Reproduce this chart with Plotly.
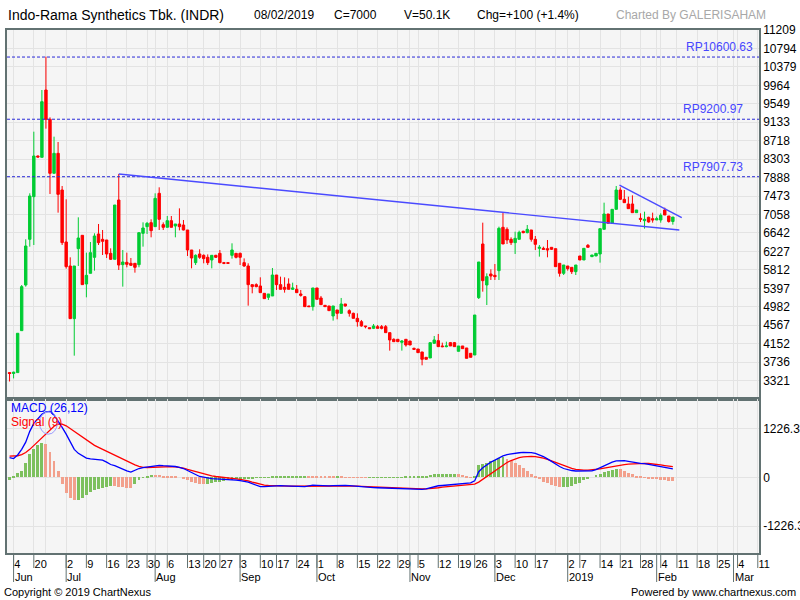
import plotly.graph_objects as go
import pandas as pd

# ---------------- data ----------------
HOLIDAYS = ['2018-06-01', '2018-06-11', '2018-06-12', '2018-06-13', '2018-06-14', '2018-06-15',
            '2018-06-18', '2018-06-19', '2018-08-17', '2018-08-22', '2018-09-11', '2018-11-20',
            '2018-12-24', '2018-12-25', '2018-12-31', '2019-01-01', '2019-02-05']
FIRST_DAY = '2018-05-31'
LAST_AXIS_DAY = '2019-03-11'
SKIP_WEEK_LABELS = ['2018-06-25', '2018-12-26']

OPEN = [3500, 3480, 3500, 4444, 5471, 6499, 7459, 8374, 8344, 9859,
        9199, 7984, 8434, 7609, 6439, 5899, 4714, 6289, 6589, 5494,
        5734, 6094, 6619, 6499, 6484, 6184, 6049, 7384, 5929, 5981,
        5959, 5959, 5929, 6634, 6784, 6874, 6784, 7534, 6829, 6769,
        6919, 6799, 6844, 6821, 6709, 6259, 5974, 6169, 6139, 6094,
        6034, 6139, 6184, 5974, 5974, 6139, 6184, 6184, 5974, 5899,
        5479, 5479, 5449, 5284, 5194, 5224, 5696, 5479, 5419, 5494,
        5374, 5374, 5269, 5209, 4999, 4984, 5404, 5179, 5014, 4999,
        4774, 4909, 4834, 5044, 4894, 4834, 4721, 4646, 4549, 4511,
        4496, 4534, 4534, 4534, 4399, 4249, 4249, 4181, 4249, 4211,
        4046, 4031, 3964, 3844, 3829, 4159, 4219, 4099, 4084, 4174,
        4174, 3979, 4099, 4054, 3934, 3896, 5186, 6394, 5471, 5719,
        5689, 5794, 6769, 6724, 6499, 6424, 6499, 6679, 6649, 6709,
        6499, 6296, 6296, 6289, 6319, 6289, 5959, 5734, 5899, 5869,
        5771, 6124, 6034, 6364, 6109, 6124, 6169, 6724, 7069, 6859,
        7174, 7609, 7399, 7294, 7294, 7099, 6971, 6919, 6994, 6964,
        6934, 6934, 7159, 7024, 6900]
HIGH = [3500, 3520, 4385, 5471, 6499, 7534, 8921, 8385, 9859, 10609,
        9244, 8809, 8689, 7699, 7399, 6094, 5899, 6994, 6589, 6199,
        6439, 6634, 6844, 6709, 6484, 6296, 7271, 7969, 6259, 6199,
        6079, 5960, 6649, 6881, 6890, 6949, 7534, 7669, 6880, 7024,
        7024, 6844, 7196, 6934, 6709, 6259, 6160, 6274, 6160, 6160,
        6139, 6150, 6259, 5990, 5980, 6409, 6184, 6200, 6070, 5959,
        5479, 5509, 5644, 5284, 5269, 5854, 5696, 5659, 5644, 5621,
        5524, 5471, 5359, 5209, 5000, 5404, 5404, 5224, 5020, 4999,
        4999, 4909, 5179, 5044, 4924, 4849, 4834, 4684, 4550, 4511,
        4594, 4571, 4571, 4571, 4399, 4271, 4249, 4230, 4249, 4211,
        4061, 4031, 3964, 3844, 4174, 4324, 4369, 4174, 4196, 4189,
        4189, 4099, 4099, 4054, 3934, 4796, 5989, 6874, 5734, 5824,
        5944, 6784, 7099, 6769, 6544, 6671, 6694, 6694, 6821, 6709,
        6574, 6371, 6334, 6484, 6319, 6289, 5959, 5921, 5899, 5869,
        5921, 6124, 6296, 6394, 6146, 6184, 6739, 7324, 7069, 7174,
        7699, 7669, 7609, 7459, 7489, 7159, 7084, 7121, 7009, 7099,
        7009, 7084, 7211, 7024, 7000]
LOW = [3300, 3370, 3500, 4444, 5434, 6334, 6371, 8340, 8344, 8989,
       7519, 7984, 7099, 6371, 5839, 4714, 3881, 5899, 5479, 5194,
       5734, 5794, 6371, 6146, 6079, 6034, 6049, 5809, 5434, 5869,
       5900, 5749, 5870, 6334, 6620, 6544, 6784, 6709, 6709, 6769,
       6769, 6544, 6700, 6700, 6124, 5846, 5921, 6060, 5959, 5921,
       5846, 6080, 5959, 5940, 5950, 6064, 6070, 5921, 5880, 5006,
       5284, 5420, 5299, 5164, 5134, 5224, 5359, 5374, 5299, 5374,
       5359, 5299, 5209, 4984, 4980, 4894, 5149, 5029, 4980, 4894,
       4669, 4699, 4834, 4984, 4759, 4721, 4534, 4534, 4496, 4480,
       4480, 4496, 4474, 4399, 3994, 4196, 4196, 3994, 4084, 4121,
       4009, 3949, 3664, 3799, 3829, 4144, 4084, 4069, 4069, 4099,
       4084, 3979, 4039, 3821, 3844, 3896, 5156, 5321, 5021, 5584,
       5584, 5584, 6394, 6394, 6371, 6169, 6499, 6634, 6634, 6446,
       6259, 6109, 6260, 6094, 6259, 5884, 5659, 5696, 5794, 5719,
       5696, 6034, 6034, 6319, 6100, 6124, 5974, 6724, 6859, 6859,
       7174, 7384, 7324, 7189, 7099, 7099, 6889, 6739, 6874, 6874,
       6934, 6874, 7046, 6874, 6829]
CLOSE = [3480, 3510, 4385, 5434, 6349, 7474, 8374, 8350, 9596, 9199,
         7984, 8434, 7511, 6424, 5884, 4714, 5899, 6529, 5479, 5689,
         6199, 6574, 6424, 6454, 6169, 6049, 7271, 5921, 5989, 5936,
         5914, 5869, 6649, 6754, 6859, 6694, 7421, 6949, 6769, 6919,
         6769, 6844, 6784, 6709, 6259, 6079, 6139, 6094, 6064, 5974,
         6139, 6094, 5974, 5959, 5959, 6259, 6094, 6094, 5899, 5479,
         5434, 5434, 5299, 5164, 5269, 5696, 5479, 5374, 5374, 5374,
         5404, 5299, 5239, 4984, 4984, 5404, 5149, 5029, 4984, 4894,
         4999, 4834, 5044, 4999, 4834, 4721, 4646, 4549, 4534, 4489,
         4549, 4496, 4496, 4399, 4234, 4196, 4196, 4211, 4121, 4121,
         4024, 3949, 3799, 3799, 4174, 4234, 4084, 4084, 4099, 4099,
         4084, 4099, 4039, 3821, 3844, 4796, 5989, 5569, 5659, 5674,
         5659, 6746, 6394, 6484, 6424, 6521, 6656, 6649, 6724, 6499,
         6386, 6319, 6274, 6259, 6274, 5884, 5734, 5921, 5839, 5771,
         5921, 6034, 6296, 6319, 6146, 6184, 6739, 7069, 6859, 7174,
         7609, 7399, 7324, 7189, 7099, 7159, 6949, 6949, 6889, 6934,
         6964, 7039, 7046, 6900, 7000]

MACD = [490, 470, 560, 700, 880, 1150, 1350, 1480, 1580, 1640,
        1650, 1560, 1420, 1250, 1080, 900, 700, 600, 540, 480,
        460, 450, 440, 430, 380, 320, 290, 240, 200, 160,
        130, 180, 220, 245, 260, 280, 295, 300, 290, 285,
        280, 270, 250, 220, 170, 110, 70, 20, 0, -20,
        -35, -40, -45, -45, -50, -55, -70, -85, -95, -120,
        -160, -200, -235, -235, -225, -215, -210, -210, -215, -220,
        -230, -240, -240, -235, -215, -195, -200, -210, -215, -215,
        -210, -205, -200, -200, -210, -220, -235, -245, -250, -255,
        -260, -262, -265, -268, -270, -270, -270, -275, -285, -295,
        -300, -302, -302, -290, -260, -230, -212, -205, -195, -185,
        -175, -170, -168, -160, -140, -90, 140, 240, 320, 380,
        430, 490, 535, 570, 590, 605, 615, 625, 630, 620,
        600, 565, 520, 460, 390, 320, 270, 220, 190, 170,
        158, 155, 155, 158, 160, 190, 240, 290, 340, 380,
        410, 420, 415, 400, 380, 360, 350, 340, 320, 300,
        280, 265, 245, 225, 210]
SIGNAL = [530, 530, 540, 570, 620, 700, 800, 900, 1000, 1100,
          1200, 1280, 1330, 1330, 1290, 1220, 1140, 1060, 990, 920,
          860, 800, 750, 700, 650, 600, 550, 500, 450, 400,
          350, 310, 275, 250, 245, 250, 258, 265, 270, 270,
          268, 262, 250, 230, 200, 170, 140, 110, 80, 55,
          35, 20, 5, -5, -20, -30, -40, -50, -65, -90,
          -120, -150, -175, -195, -205, -212, -215, -218, -220, -222,
          -224, -225, -226, -226, -225, -222, -220, -220, -220, -220,
          -220, -218, -216, -214, -214, -216, -220, -225, -230, -236,
          -242, -248, -254, -260, -265, -268, -272, -276, -280, -284,
          -286, -288, -290, -290, -286, -276, -262, -248, -236, -224,
          -214, -205, -198, -190, -180, -170, -120, -50, 30, 110,
          180, 250, 310, 370, 420, 460, 490, 510, 520, 525,
          520, 505, 480, 450, 410, 370, 330, 290, 255, 225,
          200, 185, 180, 180, 185, 195, 210, 228, 250, 270,
          290, 305, 320, 330, 338, 343, 347, 348, 345, 338,
          325, 310, 295, 280, 265]
HIST = [-60, 40, 100, 160, 350, 580, 720, 800, 850, 830,
        640, 420, 160, -180, -400, -530, -570, -570, -520, -450,
        -380, -330, -300, -270, -240, -225, -230, -235, -240, -260,
        -275, -160, -80, -10, 40, 60, 58, 55, 45, 40,
        30, 20, 0, -30, -70, -110, -140, -160, -176, -170,
        -150, -125, -110, -95, -80, -65, -50, -40, -30, -25,
        -20, -15, -10, -5, 5, 10, 15, 20, 25, 30,
        35, 38, 40, 40, 35, 30, 25, 20, 15, 12,
        10, 10, 8, 5, 3, -3, -8, -12, -15, -15,
        -12, -10, -8, -5, -5, -3, -3, 5, 8, 10,
        10, 12, 15, 20, 50, 80, 85, 85, 85, 85,
        85, 80, 70, 30, -10, 30, 310, 340, 360, 420,
        440, 480, 500, 470, 420, 360, 300, 230, 160, 90,
        20, -50, -110, -150, -190, -226, -250, -250, -240, -220,
        -180, -140, -80, -30, 0, 50, 84, 134, 170, 190,
        201, 200, 160, 120, 80, 40, 10, -10, -30, -42,
        -55, -67, -75, -85, -90]

PRICE_TICKS = [11209, 10794, 10379, 9964, 9549, 9133, 8718, 8303, 7888, 7473,
               7058, 6642, 6227, 5812, 5397, 4982, 4567, 4152, 3736, 3321]
PRICE_RANGE = [2906, 11209]
MACD_TICKS = [1226.3, 0, -1226.3]
MACD_TICKTEXT = ['1226.3', '0', '-1226.3']
MACD_RANGE = [-1896, 1961]
RP_LEVELS = [10600.63, 9200.97, 7907.73]
TREND_LONG = [(27, 7969), (165.6, 6709)]
TREND_SHORT = [(150.8, 7720), (166.2, 6986)]
X_RANGE = [-0.63, 185.3]

# ---------------- trading-day axis ----------------
hol = set(pd.to_datetime(HOLIDAYS))
days = [d for d in pd.bdate_range(FIRST_DAY, LAST_AXIS_DAY) if d not in hol]
idx = list(range(len(CLOSE)))

start = pd.Timestamp('2018-06-04')
week_first = {}
month_first = {}
for i, d in enumerate(days):
    if d < start:
        continue
    wk = (d.isocalendar()[0], d.isocalendar()[1])
    week_first.setdefault(wk, i)
    month_first.setdefault((d.year, d.month), i)
week_pos = sorted(week_first.values())
month_pos = sorted(month_first.values())
skip = set(pd.to_datetime(SKIP_WEEK_LABELS))
grid_pos = sorted(set(week_pos) | set(month_pos))
tick_text = []
for p in grid_pos:
    if p in week_pos and days[p] not in skip:
        tick_text.append(str(days[p].day))
    else:
        tick_text.append('')

# ---------------- geometry helpers ----------------
W, H = 800, 600
ML, MR, MT, MB = 7, 41, 30, 47
PW, PH = W - ML - MR, H - MT - MB
def fx(px):
    return (px - ML) / PW
def fy(py):
    return 1 - (py - MT) / PH
SPLIT = fy(399)
FONT = 'Liberation Sans, Arial, sans-serif'

fig = go.Figure()
fig.add_trace(go.Candlestick(
    x=idx, open=OPEN, high=HIGH, low=LOW, close=CLOSE,
    increasing=dict(line=dict(color='#00cc33', width=1), fillcolor='#00cc33'),
    decreasing=dict(line=dict(color='#ff0000', width=1), fillcolor='#ff0000'),
    whiskerwidth=0, xaxis='x', yaxis='y', showlegend=False, hoverinfo='skip'))

hist_colors = []
for i, v in enumerate(HIST):
    prev = HIST[i - 1] if i > 0 else v
    hist_colors.append('#7dc05e' if v >= prev else '#f2a08c')
fig.add_trace(go.Bar(x=idx, y=HIST, marker=dict(color=hist_colors, line=dict(width=0)),
                     width=0.72, xaxis='x2', yaxis='y2', showlegend=False))
fig.add_trace(go.Scatter(x=idx, y=SIGNAL, mode='lines', line=dict(color='#ff0000', width=1.3),
                         xaxis='x2', yaxis='y2', showlegend=False))
fig.add_trace(go.Scatter(x=idx, y=MACD, mode='lines', line=dict(color='#0000ff', width=1.3),
                         xaxis='x2', yaxis='y2', showlegend=False))

border = '#627272'
grid = '#e3e3e3'
axfont = dict(family=FONT, size=12, color='#000000')

shapes = []
for lv in RP_LEVELS:
    shapes.append(dict(type='line', xref='paper', yref='y', x0=0, x1=1, y0=lv, y1=lv,
                       line=dict(color='#2a2ad8', width=1, dash='3px,2px')))
for (a, b) in (TREND_LONG, TREND_SHORT):
    shapes.append(dict(type='line', xref='x', yref='y', x0=a[0], y0=a[1], x1=b[0], y1=b[1],
                       line=dict(color='#4a4aff', width=1.4)))
shapes.append(dict(type='circle', xref='x2', yref='y2', x0=7.4, x1=11.8, y0=1080, y1=1640,
                   line=dict(color='#9a9aff', width=1)))
for p in week_pos:
    if days[p] in skip:
        continue
    shapes.append(dict(type='line', xref='x2', yref='paper', x0=p, x1=p, y0=0, y1=fy(568),
                       line=dict(color=border, width=1)))
for p in month_pos:
    shapes.append(dict(type='line', xref='x2', yref='paper', x0=p, x1=p, y0=0, y1=fy(582),
                       line=dict(color=border, width=1)))

annotations = []
def txt(text, px, py, size=12, color='#000000', anchor='left'):
    annotations.append(dict(text=text, xref='paper', yref='paper', x=fx(px), y=fy(py),
                            xanchor=anchor, yanchor='middle', showarrow=False,
                            font=dict(family=FONT, size=size, color=color)))
txt('Indo-Rama Synthetics Tbk. (INDR)', 6, 15, size=14)
txt('08/02/2019', 252, 15)
txt('C=7000', 332, 15)
txt('V=50.1K', 402, 15)
txt('Chg=+100 (+1.4%)', 475, 15)
txt('Charted By GALERISAHAM', 614, 15, color='#a8a8a8')
txt('Copyright © 2019 ChartNexus', 2, 592, size=11)
txt('Powered by www.chartnexus.com', 798, 592, size=11, anchor='right')
txt('MACD (26,12)', 9, 408, color='#0000ff')
txt('Signal (9)', 9, 422, color='#ff0000')
for lv, right in zip(RP_LEVELS, [755, 745, 745]):
    annotations.append(dict(text='RP' + f'{lv:.2f}', xref='paper', yref='y', x=fx(right), y=lv,
                            xanchor='right', yanchor='bottom', yshift=1, showarrow=False,
                            font=dict(family=FONT, size=12, color='#4646ff')))
for p in month_pos:
    d = days[p]
    label = str(d.year) if d.month == 1 else d.strftime('%b')
    annotations.append(dict(text=label, xref='x2', yref='paper', x=p, y=fy(577), xanchor='left',
                            yanchor='middle', xshift=-1, showarrow=False,
                            font=dict(family=FONT, size=11, color='#000000')))

fig.update_layout(
    width=W, height=H, margin=dict(l=ML, r=MR, t=MT, b=MB, pad=0, autoexpand=False),
    paper_bgcolor='#ffffff', plot_bgcolor='#f5f5f5', boxgap=0.15,
    showlegend=False, bargap=0,
    xaxis=dict(domain=[0, 1], anchor='y', range=X_RANGE, tickvals=grid_pos, showticklabels=False,
               showgrid=True, gridcolor=grid, gridwidth=1, zeroline=False, rangeslider=dict(visible=False),
               showline=True, mirror=True, linecolor=border, linewidth=1.5, ticks='', automargin=False),
    yaxis=dict(domain=[SPLIT, 1], anchor='x', side='right', range=PRICE_RANGE, tickvals=PRICE_TICKS,
               ticktext=[str(v) for v in PRICE_TICKS], showgrid=True, gridcolor=grid, zeroline=False,
               showline=True, mirror=True, linecolor=border, linewidth=1.5, ticks='', tickfont=axfont,
               automargin=False),
    xaxis2=dict(domain=[0, 1], anchor='y2', matches='x', range=X_RANGE, tickvals=grid_pos, ticktext=tick_text,
                showgrid=True, gridcolor=grid, zeroline=False, showline=True, mirror=True,
                linecolor=border, linewidth=1.5, ticks='', ticklabelposition='outside right',
                ticklabelstandoff=0, tickfont=dict(family=FONT, size=11, color='#000000'),
                tickangle=0, automargin=False),
    yaxis2=dict(domain=[0, SPLIT], anchor='x2', side='right', range=MACD_RANGE, tickvals=MACD_TICKS,
                ticktext=MACD_TICKTEXT, showgrid=True, gridcolor=grid, zeroline=False,
                showline=True, mirror=True, linecolor=border, linewidth=1.5, ticks='', tickfont=axfont,
                automargin=False),
    shapes=shapes, annotations=annotations,
)
fig.write_html('out.html', config={'displayModeBar': False},
               post_script="document.body.style.margin='0';document.body.style.overflow='hidden';")
